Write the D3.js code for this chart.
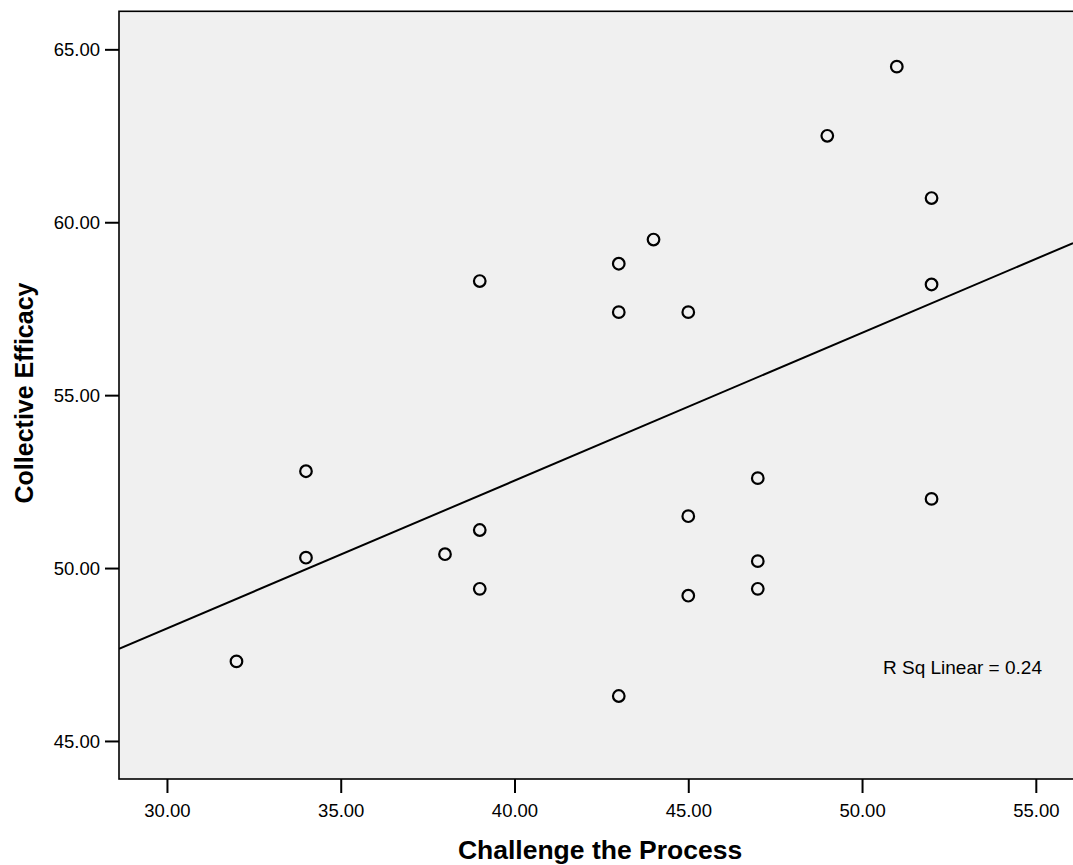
<!DOCTYPE html>
<html>
<head>
<meta charset="utf-8">
<script src="https://cdn.jsdelivr.net/npm/d3@7"></script>
<style>
  body { margin: 0; background: #fff; }
  text { font-family: "Liberation Sans", Arial, sans-serif; fill: #000; }
</style>
</head>
<body>
<svg id="chart" width="1073" height="865"></svg>
<script>
// Challenge the Process (x) vs Collective Efficacy (y)
var challenge = [32, 34, 34, 38, 39, 39, 39, 43, 43, 43, 44, 45, 45, 45, 47, 47, 47, 49, 51, 52, 52, 52];
var efficacy  = [47.3, 52.8, 50.3, 50.4, 51.1, 49.4, 58.3, 58.8, 57.4, 46.3, 59.5, 57.4, 51.5, 49.2, 52.6, 50.2, 49.4, 62.5, 64.5, 60.7, 58.2, 52.0];
var xTicks = [30, 35, 40, 45, 50, 55];
var yTicks = [45, 50, 55, 60, 65];
var rsqLabel = "R Sq Linear = 0.24";

var plot = { left: 119, top: 11.3, right: 1073, bottom: 779 };

var svg = d3.select("#chart");

var x = d3.scaleLinear().domain([28.62, 56.07]).range([plot.left, plot.right]);
var y = d3.scaleLinear().domain([43.9, 66.1]).range([plot.bottom, plot.top]);

// plot background
svg.append("rect")
    .attr("x", plot.left)
    .attr("y", plot.top)
    .attr("width", plot.right - plot.left + 10)
    .attr("height", plot.bottom - plot.top)
    .attr("fill", "#f0f0f0")
    .attr("stroke", "#000")
    .attr("stroke-width", 1.6);

svg.append("clipPath").attr("id", "clip")
    .append("rect")
    .attr("x", plot.left).attr("y", plot.top)
    .attr("width", plot.right - plot.left)
    .attr("height", plot.bottom - plot.top);

// axes
var xAxis = svg.append("g")
    .attr("transform", "translate(0," + plot.bottom + ")")
    .call(d3.axisBottom(x).tickValues(xTicks).tickFormat(d3.format(".2f")).tickSize(14).tickSizeOuter(0));
xAxis.select(".domain").remove();
xAxis.selectAll("line").attr("stroke", "#000").attr("stroke-width", 2);
xAxis.selectAll("text")
    .attr("dy", null)
    .attr("y", 38)
    .style("font-size", "18.5px")
    .style("font-family", "'Liberation Sans', Arial, sans-serif");

var yAxis = svg.append("g")
    .attr("transform", "translate(" + plot.left + ",0)")
    .call(d3.axisLeft(y).tickValues(yTicks).tickFormat(d3.format(".2f")).tickSize(14).tickSizeOuter(0));
yAxis.select(".domain").remove();
yAxis.selectAll("line").attr("stroke", "#000").attr("stroke-width", 2);
yAxis.selectAll("text")
    .attr("x", -19)
    .attr("dy", "0.35em")
    .style("font-size", "18.5px")
    .style("font-family", "'Liberation Sans', Arial, sans-serif");

// least squares fit line
var mx = d3.mean(challenge), my = d3.mean(efficacy);
var sxy = d3.sum(challenge, function(d, i) { return (d - mx) * (efficacy[i] - my); });
var sxx = d3.sum(challenge, function(d) { return (d - mx) * (d - mx); });
var slope = sxy / sxx, intercept = my - slope * mx;
var xd = x.domain();

svg.append("line")
    .attr("clip-path", "url(#clip)")
    .attr("x1", x(xd[0])).attr("y1", y(intercept + slope * xd[0]))
    .attr("x2", x(xd[1])).attr("y2", y(intercept + slope * xd[1]))
    .attr("stroke", "#000")
    .attr("stroke-width", 2);

// points
svg.selectAll(".pt")
    .data(challenge)
    .enter()
    .append("circle")
    .attr("class", "pt")
    .attr("cx", function(d) { return x(d); })
    .attr("cy", function(d, i) { return y(efficacy[i]); })
    .attr("r", 5.8)
    .attr("fill", "none")
    .attr("stroke", "#000")
    .attr("stroke-width", 2.2);

svg.append("text")
    .attr("x", 883)
    .attr("y", 674)
    .style("font-size", "19px")
    .text(rsqLabel);

// axis titles
svg.append("text")
    .attr("x", 600)
    .attr("y", 859)
    .attr("text-anchor", "middle")
    .style("font-size", "26.5px")
    .style("font-weight", "bold")
    .text("Challenge the Process");

svg.append("text")
    .attr("transform", "translate(33,393) rotate(-90)")
    .attr("text-anchor", "middle")
    .style("font-size", "25px")
    .style("font-weight", "bold")
    .text("Collective Efficacy");
</script>
</body>
</html>
